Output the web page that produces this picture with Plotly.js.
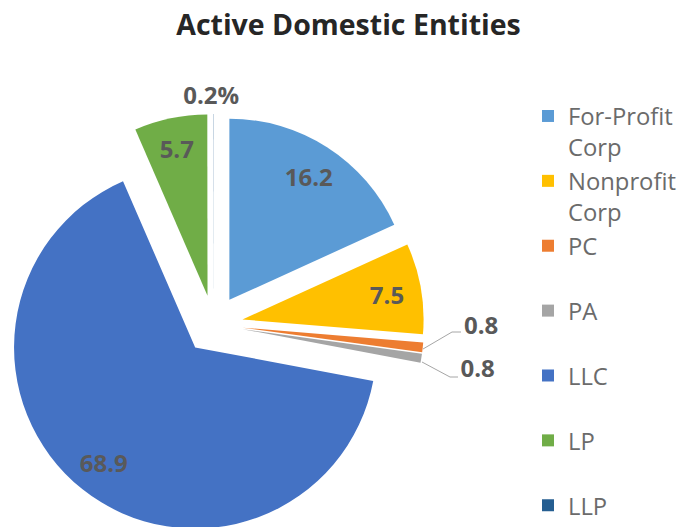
<!DOCTYPE html>
<html>
<head>
<meta charset="utf-8">
<script src="https://cdn.plot.ly/plotly-3.0.1.min.js"></script>
<style>
html,body{margin:0;padding:0;overflow:hidden;background:#fff;}
#chart{width:697px;height:550px;}
</style>
</head>
<body>
<div id="chart"></div>
<script>
var categories = ["For-Profit<br>Corp", "Nonprofit<br>Corp", "PC", "PA", "LLC", "LP", "LLP"];
var sliceValues = [18.2, 8.1, 0.85, 0.8, 65.5, 6.5, 0.02];
// Data labels as printed on the reference
var labelTexts = ["16.2", "7.5", "0.8", "0.8", "68.9", "5.7", "0.2%"];
var colors = ["#5B9BD5", "#FFC000", "#ED7D31", "#A5A5A5", "#4472C4", "#70AD47", "#255E91"];
var labelPlacement = ["inside", "inside", "outside", "outside", "inside", "inside", "outside"];

var W = 697, H = 550;
function domainAt(left, top, size) {
  return {x: [left / W, (left + size) / W], y: [1 - (top + size) / H, 1 - top / H]};
}
function px(x) { return x / W; }
function py(y) { return 1 - y / H; }

// pad single-line legend entries to two lines so spacing is uniform
var legendLabels = categories.map(function (c) {
  return c.indexOf("<br>") >= 0 ? c : c + "<br>&nbsp;";
});

var PULL = 0.162;
var SIZE = 421;
var BASE = {left: 3, top: 114};
var labelFont = {family: "Open Sans, sans-serif", size: 24, color: "#595959", weight: "bold"};
var clear = colors.map(function () { return "rgba(0,0,0,0)"; });

function pieBase(dom) {
  return {
    type: "pie",
    labels: legendLabels,
    values: sliceValues,
    sort: false,
    direction: "clockwise",
    rotation: 0,
    pull: PULL,
    domain: dom,
    hoverinfo: "skip"
  };
}

var slices = Object.assign(pieBase(domainAt(BASE.left, BASE.top, SIZE)), {
  marker: {colors: colors, line: {width: 0}},
  textinfo: "none",
  showlegend: true
});

// transparent ring carrying the inside data labels (places them toward the rim)
var insideRing = Object.assign(pieBase(domainAt(BASE.left, BASE.top, SIZE)), {
  hole: 0.62,
  marker: {colors: clear, line: {width: 0}},
  text: labelTexts.map(function (t, i) { return labelPlacement[i] === "inside" ? t : ""; }),
  textinfo: "text",
  textposition: labelPlacement.map(function (p) { return p === "inside" ? "inside" : "none"; }),
  insidetextorientation: "horizontal",
  textfont: labelFont,
  showlegend: false
});

// one transparent copy per outside label, nudged so the label sits where the reference puts it
function outsideLabel(idx, dx, dy) {
  return Object.assign(pieBase(domainAt(BASE.left + dx, BASE.top + dy, SIZE)), {
    marker: {colors: clear, line: {width: 0}},
    text: labelTexts.map(function (t, i) { return i === idx ? t : ""; }),
    textinfo: "text",
    textposition: labelTexts.map(function (t, i) { return i === idx ? "outside" : "none"; }),
    textfont: labelFont,
    showlegend: false
  });
}

var traces = [
  slices,
  insideRing,
  outsideLabel(2, 33, -23),
  outsideLabel(3, 31, 9),
  outsideLabel(6, 34, -3)
];

var leaderStyle = {color: "#A6A6A6", width: 1};
var layout = {
  width: W,
  height: H,
  margin: {l: 0, r: 0, t: 0, b: 0, autoexpand: false},
  paper_bgcolor: "#ffffff",
  title: {
    text: "<b>Active Domestic Entities</b>",
    font: {family: "Open Sans, sans-serif", size: 28.5, color: "#262626"},
    x: 0.5, xanchor: "center", xref: "container",
    y: 1 - 25.5 / H, yanchor: "middle", yref: "container"
  },
  shapes: [
    {type: "path", xref: "paper", yref: "paper", line: leaderStyle,
     path: "M" + px(423) + "," + py(349) + " L" + px(452) + "," + py(332) + " L" + px(461) + "," + py(332)},
    {type: "path", xref: "paper", yref: "paper", line: leaderStyle,
     path: "M" + px(422) + "," + py(362) + " L" + px(450) + "," + py(377) + " L" + px(458) + "," + py(377)}
  ],
  showlegend: true,
  legend: {
    x: px(528), xanchor: "left",
    y: py(94), yanchor: "top",
    valign: "top",
    maxheight: 520,
    font: {family: "Open Sans, sans-serif", size: 23.8, color: "#6B6B6B"},
    bgcolor: "rgba(0,0,0,0)"
  }
};

Plotly.newPlot("chart", traces, layout, {displayModeBar: false, staticPlot: true});
</script>
</body>
</html>
